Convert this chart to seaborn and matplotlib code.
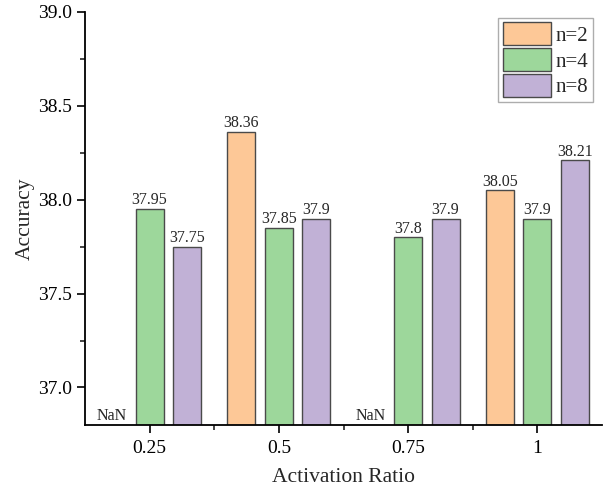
import matplotlib
matplotlib.use("Agg")
import matplotlib.pyplot as plt
import seaborn as sns
import pandas as pd
import numpy as np
from matplotlib.ticker import AutoMinorLocator

categories = ["0.25", "0.5", "0.75", "1"]
n2 = [np.nan, 38.36, np.nan, 38.05]
n4 = [37.95, 37.85, 37.8, 37.9]
n8 = [37.75, 37.9, 37.9, 38.21]
series_names = ["n=2", "n=4", "n=8"]
colors = ["#FDC897", "#9DD79B", "#C1B1D6"]

rows = []
for name, vals in zip(series_names, [n2, n4, n8]):
    for c, v in zip(categories, vals):
        rows.append({"ratio": c, "series": name, "acc": v})
df = pd.DataFrame(rows)

sns.set_style("ticks")
plt.rcParams["font.family"] = ["Liberation Serif", "DejaVu Serif"]

fig = plt.figure(figsize=(6.11, 4.88), dpi=100)
ax = fig.add_axes([85/611, 1-425/488, 517/611, 413/488])

sns.barplot(data=df, x="ratio", y="acc", hue="series", order=categories,
            hue_order=series_names, palette=colors, saturation=1,
            width=0.87, gap=0.25,
            edgecolor="#4a4a4a", linewidth=1.0, ax=ax, errorbar=None)

ax.set_ylim(36.8, 39.0)
ax.set_xlim(-0.5, 3.5)
ax.set_yticks([37.0, 37.5, 38.0, 38.5, 39.0])
ax.set_yticklabels([f"{v:.1f}" for v in [37.0, 37.5, 38.0, 38.5, 39.0]])
ax.yaxis.set_minor_locator(AutoMinorLocator(2))
ax.set_xticks(range(len(categories)))
ax.set_xticks([0.5, 1.5, 2.5], minor=True)
ax.tick_params(axis="both", which="major", labelsize=14, direction="out", length=6, width=1.2, colors="black")
ax.tick_params(axis="x", which="major", pad=5)
ax.tick_params(axis="both", which="minor", direction="out", length=3.5, width=1.2)
for s in ["top", "right"]:
    ax.spines[s].set_visible(False)
for s in ["left", "bottom"]:
    ax.spines[s].set_linewidth(1.3)
    ax.spines[s].set_color("black")

ax.set_xlabel("Activation Ratio", fontsize=15.5, labelpad=8)
ax.set_ylabel("Accuracy", fontsize=15.5, labelpad=2)

offsets = {"n=2": -0.29, "n=4": 0.0, "n=8": 0.29}
for name, vals in zip(series_names, [n2, n4, n8]):
    for i, v in enumerate(vals):
        x = i + offsets[name]
        if np.isnan(v):
            ax.text(x, 36.805, "NaN", ha="center", va="bottom", fontsize=11.5)
        else:
            ax.text(x, v + 0.004, f"{v:g}", ha="center", va="bottom", fontsize=11.5)

leg = ax.legend(loc="upper right", bbox_to_anchor=(0.99, 0.995), fontsize=15,
                frameon=True, fancybox=False, edgecolor="#999999",
                handlelength=2.3, handleheight=1.3, handletextpad=0.25,
                labelspacing=0.12, borderpad=0.2, borderaxespad=0.2)
leg.get_frame().set_linewidth(1.0)

fig.savefig("out.png", dpi=100)
